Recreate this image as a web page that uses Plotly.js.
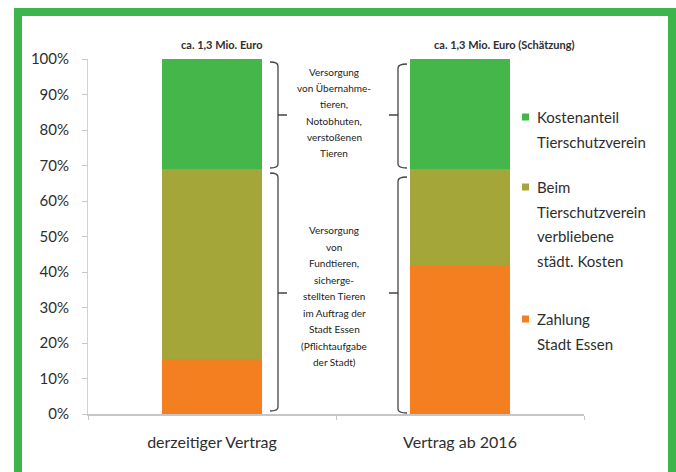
<!DOCTYPE html>
<html>
<head>
<meta charset="utf-8">
<script src="https://cdn.plot.ly/plotly-3.0.1.min.js"></script>
<style>html,body{margin:0;padding:0;background:#fff;}#chart{width:676px;height:472px;}</style>
</head>
<body>
<div id="chart"></div>
<script>
// ---- data ----
const categories = ['derzeitiger Vertrag', 'Vertrag ab 2016'];
const zahlungStadt = [15.5, 42];
const verblieben = [53.5, 27];
const kostenanteil = [31, 31];
const seriesNames = ['Zahlung<br>Stadt Essen', 'Beim<br>Tierschutzverein<br>verbliebene<br>städt. Kosten', 'Kostenanteil<br>Tierschutzverein'];
const barTitles = ['ca. 1,3 Mio. Euro', 'ca. 1,3 Mio. Euro (Schätzung)'];
const braceTextUpper = ['Versorgung', 'von Übernahme-', 'tieren,', 'Notobhuten,', 'verstoßenen', 'Tieren'];
const braceTextLower = ['Versorgung', 'von', 'Fundtieren,', 'sicherge-', 'stellten Tieren', 'im Auftrag der', 'Stadt Essen', '(Pflichtaufgabe', 'der Stadt)'];
const legendLines = [['Kostenanteil', 'Tierschutzverein'], ['Beim', 'Tierschutzverein', 'verbliebene', 'städt. Kosten'], ['Zahlung', 'Stadt Essen']];

const colors = {orange: '#f47f21', olive: '#a5a63a', green: '#44b64a'};
const FONT = 'Lato, "Open Sans", sans-serif';
const TXT = '#2e2e2e';

const W = 676, H = 472;
const L = 88, R = 584, T = 59, B = 414;
const px2paperX = p => (p - L) / (R - L);
const px2paperY = p => (B - p) / (B - T);

const traces = [
  {type: 'bar', x: categories, y: zahlungStadt, name: seriesNames[0], marker: {color: colors.orange}, showlegend: false, hoverinfo: 'skip'},
  {type: 'bar', x: categories, y: verblieben, name: seriesNames[1], marker: {color: colors.olive}, showlegend: false, hoverinfo: 'skip'},
  {type: 'bar', x: categories, y: kostenanteil, name: seriesNames[2], marker: {color: colors.green}, showlegend: false, hoverinfo: 'skip'}
];

const annotations = [];
const shapes = [];

// titles above bars
[[222, barTitles[0]], [504, barTitles[1]]].forEach(([cx, t]) => {
  annotations.push({xref: 'paper', yref: 'paper', x: px2paperX(cx), y: px2paperY(44), text: '<b>' + t + '</b>',
    showarrow: false, xanchor: 'center', yanchor: 'middle', font: {family: FONT, size: 11, color: TXT}});
});

// brace text
const addLines = (lines, cx, y0, dy, size) => lines.forEach((t, i) => {
  annotations.push({xref: 'paper', yref: 'paper', x: px2paperX(cx), y: px2paperY(y0 + i * dy), text: t,
    showarrow: false, xanchor: 'center', yanchor: 'middle', font: {family: FONT, size: size, color: '#222'}});
});
addLines(braceTextUpper, 334, 72, 16.2, 10);
addLines(braceTextLower, 334, 230, 16.5, 10);

// braces (shapes in pixel->paper coords)
function brace(xv, xs, xm, top, bot, mid) {
  const X = px2paperX, Y = px2paperY;
  const path = `M${X(xs)},${Y(top)} Q${X(xv)},${Y(top)} ${X(xv)},${Y(top + 4)} L${X(xv)},${Y(bot - 4)} Q${X(xv)},${Y(bot)} ${X(xs)},${Y(bot)} M${X(xv)},${Y(mid)} L${X(xm)},${Y(mid)}`;
  shapes.push({type: 'path', xref: 'paper', yref: 'paper', path: path, line: {color: '#444', width: 1.3}});
}
brace(278, 270, 287, 62, 168, 115);
brace(278, 270, 287, 173, 411, 293);
brace(398, 407, 389, 64, 168, 115);
brace(398, 407, 389, 177, 413, 293);

// legend (manual)
const legendColors = [colors.green, colors.olive, colors.orange];
const legendTop = [117, 187, 319];
legendLines.forEach((lines, gi) => {
  const y0 = legendTop[gi];
  shapes.push({type: 'rect', xref: 'paper', yref: 'paper', x0: px2paperX(522), x1: px2paperX(529),
    y0: px2paperY(y0 + 3.5), y1: px2paperY(y0 - 3.5), fillcolor: legendColors[gi], line: {width: 0}});
  lines.forEach((t, i) => {
    annotations.push({xref: 'paper', yref: 'paper', x: px2paperX(535), y: px2paperY(y0 + i * 24.5), text: t,
      showarrow: false, xanchor: 'left', yanchor: 'middle', font: {family: FONT, size: 15, color: TXT}});
  });
});

// green frame
const G = '#3db54a';
const fr = (x0, y0, x1, y1) => shapes.push({type: 'rect', xref: 'paper', yref: 'paper', layer: 'above',
  x0: (x0 - L) / (R - L), x1: (x1 - L) / (R - L), y0: (B - y0) / (B - T), y1: (B - y1) / (B - T), fillcolor: G, line: {width: 0}});
fr(14, 8, 22, 480);
fr(14, 8, 680, 16);
fr(668, 8, 680, 480);

const layout = {
  width: W, height: H,
  margin: {l: L, r: W - R, t: T, b: H - B, pad: 0},
  paper_bgcolor: '#ffffff', plot_bgcolor: '#ffffff',
  barmode: 'stack', bargap: 0.6,
  showlegend: false,
  font: {family: FONT, color: TXT},
  xaxis: {
    type: 'category', showgrid: false, zeroline: false,
    showline: true, linecolor: '#c6c6c6', linewidth: 1.5,
    ticks: 'outside', tickson: 'boundaries', ticklen: 4, tickcolor: '#c6c6c6',
    ticklabelstandoff: 13,
    tickfont: {family: FONT, size: 16, color: TXT}
  },
  yaxis: {
    range: [0, 100], dtick: 10, ticksuffix: '%', showgrid: false, zeroline: false,
    showline: true, linecolor: '#d0d0d0', linewidth: 1,
    ticks: 'outside', ticklen: 5, tickcolor: '#c6c6c6',
    ticklabelstandoff: 10,
    tickfont: {family: FONT, size: 15, color: TXT}
  },
  annotations: annotations,
  shapes: shapes
};

Plotly.newPlot('chart', traces, layout, {displayModeBar: false, staticPlot: true});
</script>
</body>
</html>
